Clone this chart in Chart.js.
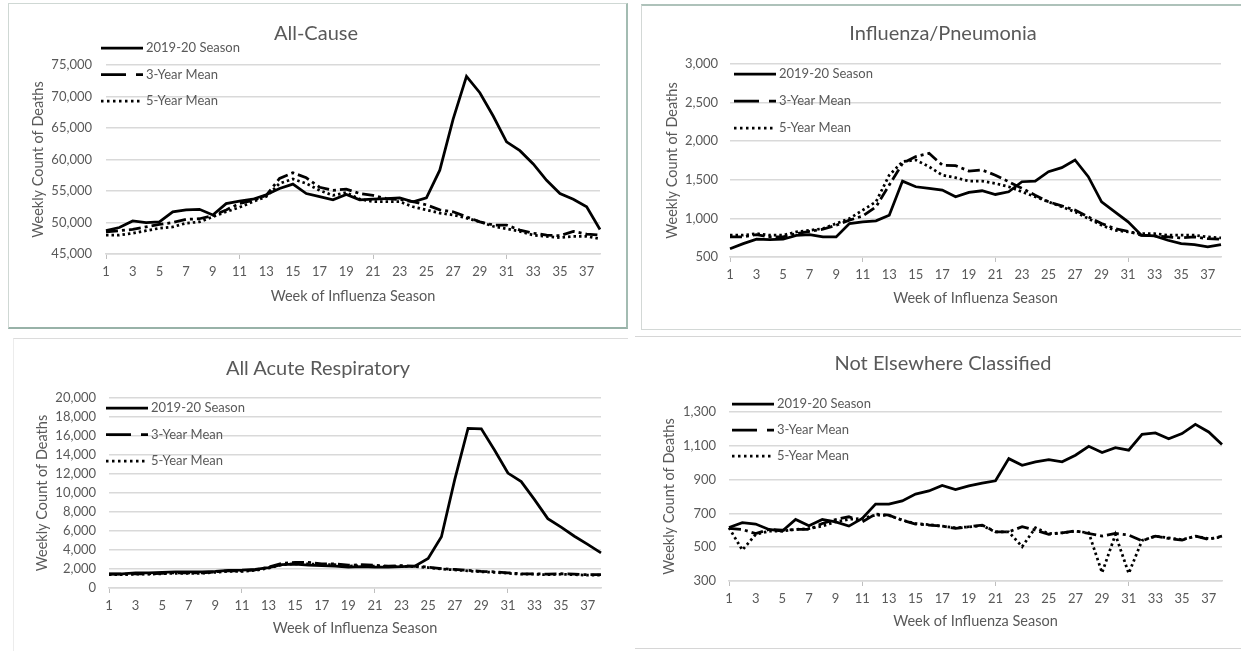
<!DOCTYPE html>
<html>
<head>
<meta charset="utf-8">
<script src="https://cdn.jsdelivr.net/npm/chart.js@4.4.1/dist/chart.umd.min.js"></script>
<style>
  html, body { margin: 0; padding: 0; background: #fff; }
  body { width: 1241px; height: 651px; position: relative; overflow: hidden; font-family: Lato, "Open Sans", sans-serif; }
  .panel { position: absolute; box-sizing: border-box; }
  canvas { position: absolute; }
  .ttl { position: absolute; color: #595959; font-size: 20px; transform: translate(-50%, -50%); white-space: nowrap; }
</style>
</head>
<body>
<div class="panel" style="left:8px;top:3px;width:620px;height:326px;border:1px solid #cfd8d4;border-right:2px solid #a3bcb2;border-bottom:2px solid #98b2a8;"></div>
<div class="panel" style="left:641px;top:4px;width:610px;height:326px;border:1px solid #d3d8d6;border-top:2px solid #aec2ba;"></div>
<div class="panel" style="left:13px;top:338px;width:615px;height:320px;border-top:1px solid #dcdcdc;border-left:1px solid #ececec;"></div>
<div class="panel" style="left:635px;top:336px;width:610px;height:313px;border-top:1px solid #d6d6d6;border-bottom:1px solid #d6d6d6;"></div>

<canvas id="c1" width="630" height="330" style="left:0;top:0"></canvas>
<canvas id="c2" width="606" height="330" style="left:635px;top:0"></canvas>
<canvas id="c3" width="630" height="316" style="left:0;top:335px"></canvas>
<canvas id="c4" width="606" height="316" style="left:635px;top:335px"></canvas>

<div class="ttl" style="left:316px;top:32px">All-Cause</div>
<div class="ttl" style="left:943px;top:32px">Influenza/Pneumonia</div>
<div class="ttl" style="left:318px;top:367px">All Acute Respiratory</div>
<div class="ttl" style="left:943px;top:362px">Not Elsewhere Classified</div>

<script>
const weeks = Array.from({ length: 38 }, (_, i) => String(i + 1));
const seriesNames = ['2019-20 Season', '3-Year Mean', '5-Year Mean'];

// All-Cause
const allCause2019 = [48700, 49200, 50250, 50000, 50100, 51700, 52000, 52100, 51200, 53000, 53400, 53700, 54400, 55400, 56100, 54600, 54100, 53600, 54450, 53600, 53700, 53800, 53900, 53300, 53900, 58300, 66400, 73200, 70600, 66900, 62800, 61400, 59300, 56700, 54600, 53700, 52500, 48900];
const allCause3yr = [48500, 48700, 48900, 49300, 49700, 50000, 50500, 50600, 51100, 52000, 53000, 53500, 54300, 57000, 57900, 57100, 55600, 55100, 55300, 54600, 54300, 53800, 53650, 53300, 52800, 52000, 51700, 50900, 50100, 49600, 49600, 48800, 48300, 48000, 47900, 48600, 48150, 48000];
const allCause5yr = [48000, 48000, 48300, 48700, 49100, 49300, 49900, 50100, 50900, 51700, 52400, 53300, 54100, 56200, 56900, 56200, 55100, 54300, 54750, 53700, 53300, 53300, 53300, 52500, 52000, 51500, 51200, 50700, 50100, 49400, 49000, 48600, 48000, 47800, 47600, 47800, 47800, 47400];

// Influenza/Pneumonia
const flu2019 = [608, 673, 730, 725, 730, 780, 790, 760, 760, 933, 955, 968, 1040, 1483, 1410, 1390, 1367, 1280, 1336, 1358, 1310, 1345, 1475, 1483, 1605, 1657, 1757, 1540, 1215, 1085, 955, 782, 773, 717, 673, 660, 630, 660];
const flu3yr = [760, 760, 790, 760, 760, 803, 833, 860, 912, 977, 1030, 1150, 1432, 1713, 1800, 1843, 1690, 1683, 1614, 1627, 1560, 1475, 1390, 1300, 1215, 1163, 1107, 1020, 933, 868, 833, 780, 773, 760, 747, 760, 738, 730];
const flu5yr = [782, 782, 803, 782, 782, 825, 846, 868, 933, 998, 1107, 1215, 1560, 1735, 1757, 1670, 1560, 1527, 1483, 1483, 1453, 1410, 1345, 1280, 1215, 1150, 1085, 998, 912, 846, 825, 803, 803, 782, 782, 782, 760, 747];

// All Acute Respiratory
const acute2019 = [1500, 1500, 1600, 1600, 1650, 1700, 1700, 1700, 1750, 1850, 1870, 1950, 2150, 2450, 2500, 2400, 2350, 2300, 2200, 2250, 2200, 2200, 2250, 2300, 3100, 5400, 11400, 16800, 16750, 14500, 12100, 11200, 9300, 7300, 6400, 5450, 4600, 3700];
const acute3yr = [1450, 1450, 1500, 1500, 1550, 1600, 1600, 1600, 1700, 1800, 1800, 1900, 2200, 2600, 2700, 2700, 2550, 2550, 2400, 2450, 2400, 2300, 2350, 2300, 2200, 2050, 1950, 1850, 1750, 1700, 1600, 1500, 1500, 1450, 1500, 1450, 1400, 1400];
const acute5yr = [1400, 1400, 1450, 1450, 1500, 1550, 1550, 1550, 1650, 1750, 1750, 1850, 2100, 2450, 2550, 2550, 2450, 2450, 2300, 2350, 2300, 2250, 2300, 2250, 2150, 2000, 1900, 1800, 1700, 1650, 1550, 1450, 1450, 1400, 1450, 1400, 1350, 1350];

// Not Elsewhere Classified
const nec2019 = [617, 645, 637, 605, 595, 664, 627, 664, 650, 625, 670, 755, 755, 774, 814, 833, 865, 841, 863, 879, 893, 1024, 985, 1005, 1018, 1005, 1044, 1097, 1060, 1089, 1074, 1168, 1176, 1142, 1172, 1227, 1182, 1107];
const nec3yr = [611, 605, 580, 605, 601, 605, 605, 640, 664, 680, 650, 696, 690, 660, 637, 631, 625, 611, 621, 631, 591, 591, 621, 601, 576, 585, 597, 581, 566, 581, 572, 538, 566, 552, 542, 566, 546, 566];
const nec5yr = [615, 483, 575, 595, 595, 605, 610, 625, 650, 665, 670, 690, 688, 660, 640, 633, 625, 615, 620, 628, 590, 590, 503, 615, 580, 585, 595, 585, 349, 575, 345, 540, 565, 555, 545, 565, 550, 560];

const GRAY = '#595959';
const FONT = 'Lato, "Open Sans", sans-serif';
const lineDash = [[], [12, 4, 3, 4], [2.5, 3]];
const legendDash = [[], [25, 10, 7, 200], [2.5, 3.5]];

// legend drawn inside the plot, top-left, like the Excel original
const sideLegend = {
    id: 'sideLegend',
    afterDraw(chart, args, opts) {
        const ctx = chart.ctx;
        ctx.save();
        chart.data.datasets.forEach((ds, i) => {
            const y = opts.y + i * opts.gap;
            ctx.beginPath();
            ctx.setLineDash(legendDash[i]);
            ctx.lineWidth = 2.75;
            ctx.strokeStyle = '#000';
            ctx.moveTo(opts.x, y);
            ctx.lineTo(opts.x + 42, y);
            ctx.stroke();
            ctx.setLineDash([]);
            ctx.fillStyle = GRAY;
            ctx.font = '13px ' + FONT;
            ctx.textBaseline = 'middle';
            ctx.textAlign = 'left';
            ctx.fillText(ds.label, opts.x + 45, y);
        });
        ctx.restore();
    }
};

function makeChart(id, series, yMin, yMax, yStep, box) {
    const canvas = document.getElementById(id);
    const W = canvas.width, H = canvas.height;
    return new Chart(canvas, {
        type: 'line',
        data: {
            labels: weeks,
            datasets: series.map((vals, i) => ({
                label: seriesNames[i],
                data: vals,
                borderColor: '#000',
                borderWidth: 2.75,
                borderDash: lineDash[i],
                pointRadius: 0,
                tension: 0,
                fill: false
            }))
        },
        options: {
            responsive: false,
            animation: false,
            devicePixelRatio: 1,
            layout: { padding: { top: box.top, right: W - box.right, left: 0, bottom: 0 } },
            plugins: {
                legend: { display: false },
                tooltip: { enabled: false },
                sideLegend: box.legend
            },
            scales: {
                x: {
                    afterFit: s => { s.height = H - box.bottom; },
                    grid: {
                        drawOnChartArea: false,
                        tickLength: 5,
                        tickColor: c => (c.index % 10 === 0 ? '#bfbfbf' : 'rgba(0,0,0,0)')
                    },
                    border: { color: '#d9d9d9', width: 1.5 },
                    ticks: {
                        autoSkip: false,
                        maxRotation: 0,
                        padding: 5,
                        color: GRAY,
                        font: { family: FONT, size: 13 },
                        callback: (v, i) => (i % 2 === 0 ? weeks[i] : '')
                    },
                    title: {
                        display: true,
                        text: 'Week of Influenza Season',
                        color: GRAY,
                        font: { family: FONT, size: 14.5 },
                        padding: { top: 0, bottom: box.xTitlePad }
                    }
                },
                y: {
                    min: yMin,
                    max: yMax,
                    afterFit: s => { s.width = box.left; },
                    grid: { color: '#d9d9d9', lineWidth: 1.5, drawTicks: false },
                    border: { display: false },
                    ticks: {
                        stepSize: yStep,
                        padding: box.yTickPad,
                        color: GRAY,
                        font: { family: FONT, size: 13 },
                        callback: v => v.toLocaleString('en-US')
                    },
                    title: {
                        display: true,
                        text: 'Weekly Count of Deaths',
                        color: GRAY,
                        font: { family: FONT, size: 14.5 },
                        padding: { top: box.yTitlePad, bottom: 0 }
                    }
                }
            }
        },
        plugins: [sideLegend]
    });
}

makeChart('c1', [allCause2019, allCause3yr, allCause5yr], 45000, 75000, 5000,
    { left: 106, right: 600, top: 65, bottom: 254, yTickPad: 14, yTitlePad: 30, xTitlePad: 25,
      legend: { x: 101, y: 48, gap: 26.5 } });
makeChart('c2', [flu2019, flu3yr, flu5yr], 500, 3000, 500,
    { left: 95, right: 586, top: 64, bottom: 257, yTickPad: 12, yTitlePad: 29, xTitlePad: 23,
      legend: { x: 99, y: 74, gap: 27 } });
makeChart('c3', [acute2019, acute3yr, acute5yr], 0, 20000, 2000,
    { left: 109, right: 601, top: 63, bottom: 253, yTickPad: 13, yTitlePad: 34, xTitlePad: 14,
      legend: { x: 106, y: 73, gap: 26.5 } });
makeChart('c4', [nec2019, nec3yr, nec5yr], 300, 1300, 200,
    { left: 94, right: 587, top: 77, bottom: 246, yTickPad: 13, yTitlePad: 26, xTitlePad: 21,
      legend: { x: 97, y: 69, gap: 26 } });
</script>
</body>
</html>
